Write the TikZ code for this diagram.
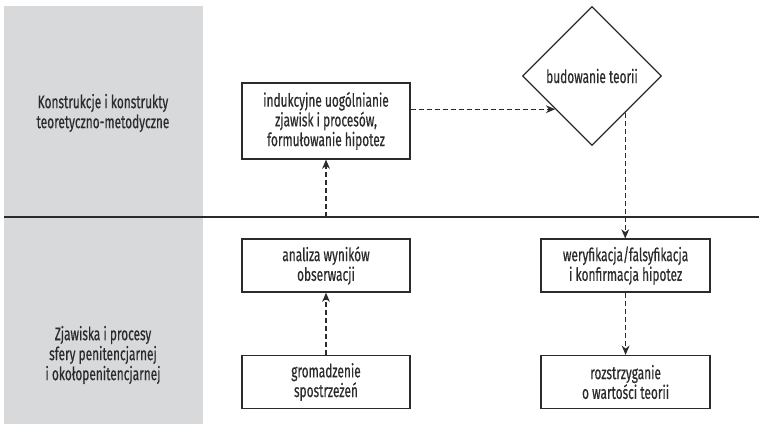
\documentclass[tikz,border=0pt]{standalone}
\usepackage{fontspec}
\setmainfont{Fira Sans}[FakeStretch=0.65, FakeBold=0.5]
\usetikzlibrary{arrows.meta, positioning, shapes.geometric}
\definecolor{panelcolor}{HTML}{D8D9DB}
\definecolor{inkcolor}{HTML}{2B2B2B}

\begin{document}
\begin{tikzpicture}[
    >=Stealth,
    every node/.style={text=inkcolor},
    block/.style={draw=inkcolor, line width=0.9pt, align=center,
        minimum width=4.2cm, font=\fontsize{13}{14}\selectfont},
    decision/.style={diamond, draw=inkcolor, line width=0.9pt, aspect=1,
        minimum width=3.475cm, minimum height=3.475cm, inner sep=0pt,
        font=\fontsize{13}{14}\selectfont},
    sidelabel/.style={align=center, font=\fontsize{13}{14.2}\selectfont},
    arr/.style={->, draw=inkcolor, line width=0.8pt,
        dash pattern=on 3.5pt off 2.2pt,
        -{Stealth[length=6.5pt, width=5.5pt, inset=2pt]}},
]
\useasboundingbox (0,0) rectangle (18.975,-10.625);

% --- Side panel ---
\fill[panelcolor] (0.1,-0.15) rectangle (5.075,-10.6);
\node[sidelabel] (upperlabel) at (2.575,-2.825)
    {Konstrukcje i konstrukty\\teoretyczno-metodyczne};
\node[sidelabel] (lowerlabel) at (2.575,-8.875)
    {Zjawiska i procesy\\sfery penitencjarnej\\i okołopenitencjarnej};

% --- Dividing line ---
\coordinate (divL) at (0.1,-5.425);
\coordinate (divR) at (18.975,-5.425);
\draw[inkcolor, line width=2pt] (divL) -- (divR);

% --- Upper level ---
\node[block, minimum height=1.9cm] (induk) at (8.15,-3.025)
    {indukcyjne uogólnianie\\zjawisk i procesów,\\formułowanie hipotez};
\node[decision] (theory) at (14.8,-1.9) {budowanie teorii};

% --- Lower level ---
\node[block, minimum height=1.325cm] (analiza) at (8.15,-6.64)
    {analiza wyników\\obserwacji};
\node[block, minimum height=1.325cm] (gromadz) at (8.15,-9.55)
    {gromadzenie\\spostrzeżeń};
\node[block, minimum height=1.325cm, minimum width=4.225cm] (verif) at (15.64,-6.64)
    {weryfikacja/falsyfikacja\\i konfirmacja hipotez};
\node[block, minimum height=1.325cm, minimum width=4.225cm] (decide) at (15.64,-9.55)
    {rozstrzyganie\\o wartości teorii};

% --- Connections ---
\draw[arr] (gromadz) -- (analiza);
\draw[arr] (induk.south |- divL) -- (induk.south);
\draw[arr] (induk.east |- theory.222.5) -- (theory.222.5);
\draw[arr] (theory.312.5) -- (theory.312.5 |- verif.north);
\draw[arr] (verif) -- (decide);

\end{tikzpicture}
\end{document}
